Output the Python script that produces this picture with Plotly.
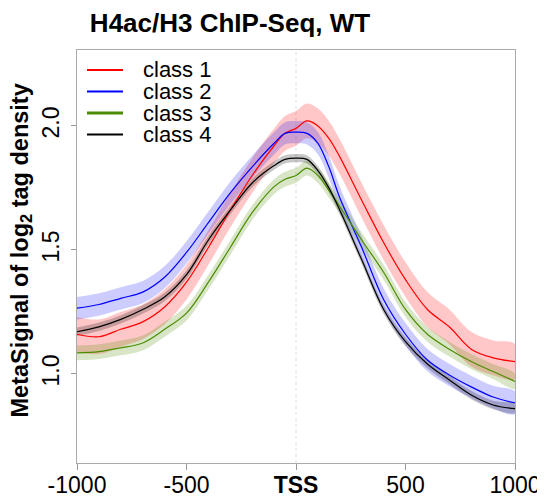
import plotly.graph_objects as go

positions = [-1000, -900, -800, -700, -600, -500, -400, -300, -200, -100, -50, 0, 50,
             100, 150, 200, 300, 400, 500, 600, 700, 800, 900, 1000]

class1 = [1.16, 1.15, 1.18, 1.21, 1.27, 1.37, 1.51, 1.66, 1.80, 1.92, 1.97, 1.99, 2.02,
          2.00, 1.95, 1.875, 1.70, 1.53, 1.38, 1.26, 1.19, 1.10, 1.065, 1.05]
class2 = [1.265, 1.28, 1.305, 1.33, 1.39, 1.49, 1.61, 1.73, 1.835, 1.93, 1.97, 1.975, 1.97,
          1.93, 1.835, 1.71, 1.51, 1.30, 1.16, 1.056, 0.996, 0.948, 0.907, 0.883]
class3 = [1.085, 1.09, 1.105, 1.125, 1.18, 1.245, 1.37, 1.51, 1.65, 1.755, 1.785, 1.80, 1.83,
          1.80, 1.74, 1.675, 1.54, 1.41, 1.26, 1.16, 1.10, 1.05, 1.01, 0.97]
class4 = [1.17, 1.19, 1.22, 1.26, 1.31, 1.40, 1.54, 1.66, 1.77, 1.84, 1.865, 1.87, 1.865,
          1.82, 1.75, 1.66, 1.46, 1.26, 1.13, 1.04, 0.976, 0.915, 0.875, 0.86]

# half-width of the shaded error band for each class
band_half = {"class 1": 0.07, "class 2": 0.045, "class 3": 0.03, "class 4": 0.017}

series = [
    ("class 1", class1, "#ff0000", "rgba(255,0,0,0.22)"),
    ("class 2", class2, "#0000ff", "rgba(0,0,255,0.20)"),
    ("class 3", class3, "#4c8c00", "rgba(76,140,0,0.22)"),
    ("class 4", class4, "#000000", "rgba(0,0,0,0.22)"),
]

x_tickvals = [-1000, -500, 0, 500, 1000]
x_ticktext = ["-1000", "-500", "<b>TSS</b>", "500", "1000"]
y_tickvals = [1.0, 1.5, 2.0]
y_ticktext = ["1.0", "1.5", "2.0"]

# the page body has an 8px margin, so the figure is drawn 8px in from the window edge
OFF = 8
W, H = 545 - OFF, 504 - OFF
L, R, T, B = 77 - OFF, 30, 50 - OFF, 41
PW, PH = W - L - R, H - T - B

fig = go.Figure()

for name, vals, col, fill in series:
    h = band_half[name]
    upper = [v + h for v in vals]
    lower = [v - h for v in vals]
    fig.add_trace(go.Scatter(
        x=positions + positions[::-1], y=upper + lower[::-1],
        fill="toself", fillcolor=fill, line=dict(width=0, shape="spline"),
        mode="lines", showlegend=False, hoverinfo="skip"))

for name, vals, col, fill in series:
    fig.add_trace(go.Scatter(
        x=positions, y=vals, mode="lines", name=name, showlegend=False,
        line=dict(color=col, width=1.2, shape="spline")))

fig.add_shape(type="line", x0=0, x1=0, y0=0, y1=1, xref="x", yref="paper",
              line=dict(color="#dcdcdc", width=1, dash="dot"), layer="below")

# hand-drawn legend (top-left, inside the plot frame); positions in window pixels
annotations = []
legend_rows_px = [70, 91.5, 113, 134.5]
for (name, vals, col, fill), ry in zip(series, legend_rows_px):
    yp = 1 - (ry - OFF - T) / PH
    fig.add_shape(type="line", xref="paper", yref="paper",
                  x0=(87 - OFF - L) / PW, x1=(123 - OFF - L) / PW, y0=yp, y1=yp,
                  line=dict(color=col, width=2.2 if name != "class 3" else 3))
    annotations.append(dict(text=name, x=(141 - OFF - L) / PW, y=yp,
                            xref="paper", yref="paper",
                            xanchor="left", yanchor="middle", showarrow=False,
                            font=dict(size=22)))

annotations.append(dict(text="<b>MetaSignal of log<sub>2</sub> tag density</b>",
                        textangle=-90, x=(20.5 - OFF - L) / PW, y=(504 - 41 - 251) / PH,
                        xref="paper", yref="paper",
                        xanchor="center", yanchor="middle", showarrow=False,
                        font=dict(size=23.5)))

fig.update_layout(
    width=W, height=H,
    margin=dict(l=L, r=R, t=T, b=B, autoexpand=False),
    paper_bgcolor="white", plot_bgcolor="white",
    font=dict(family="Liberation Sans, Arial, sans-serif", color="black"),
    title=dict(text="<b>H4ac/H3 ChIP-Seq, WT</b>", x=(230 - OFF) / W, xanchor="center",
               y=0.97, yanchor="middle", font=dict(size=26)),
    showlegend=False,
    xaxis=dict(range=[-1000, 1000], tickvals=x_tickvals, ticktext=x_ticktext,
               ticks="outside", ticklen=6, tickcolor="#999999", automargin=False,
               ticklabelstandoff=-5,
               showline=True, linecolor="#aaaaaa", mirror=True, showgrid=False,
               zeroline=False, tickfont=dict(size=23)),
    yaxis=dict(range=[0.641, 2.306], tickvals=y_tickvals, ticktext=y_ticktext,
               ticks="outside", ticklen=5, tickcolor="#999999", tickangle=-90,
               automargin=False, ticklabelstandoff=3,
               showline=True, linecolor="#aaaaaa", mirror=True, showgrid=False,
               zeroline=False, tickfont=dict(size=23)),
    annotations=annotations,
)

fig.write_html("out.html")
